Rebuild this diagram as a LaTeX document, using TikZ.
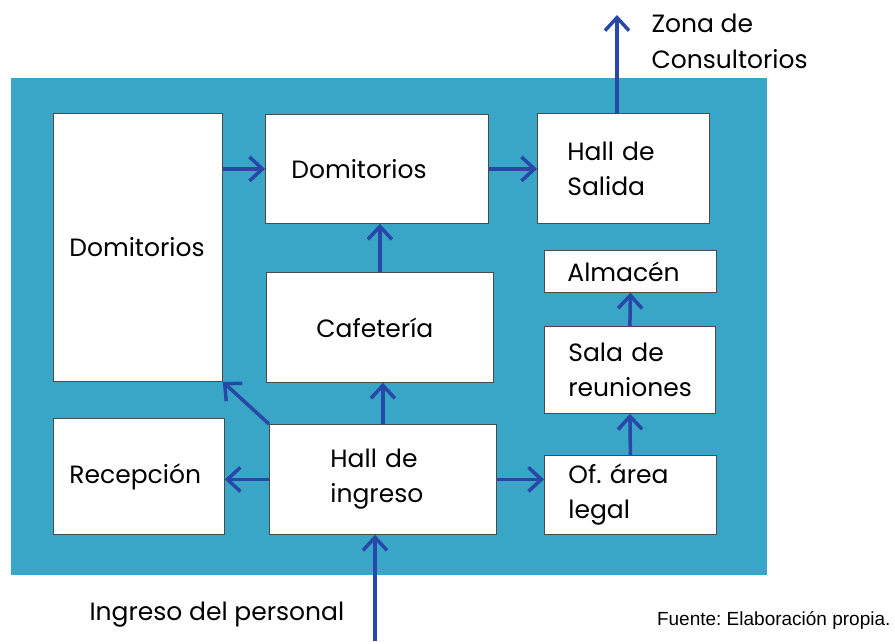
\documentclass[tikz,border=0pt]{standalone}
\usepackage{fontspec}
\setmainfont{Poppins}
\newfontfamily\notefont{Liberation Sans}
\usetikzlibrary{arrows.meta, positioning, calc}
\definecolor{poolblue}{HTML}{3AA6C7}
\definecolor{flowblue}{HTML}{2748A8}
\definecolor{edgegray}{HTML}{4A4A4A}
\frenchspacing

\begin{document}
\begin{tikzpicture}[
    x=1pt, y=-1pt,
    >={Straight Barb[length=13pt, width=24pt]},
    roombox/.style={draw=edgegray, line width=0.8pt, fill=white, anchor=north west, align=left, inner ysep=0pt, font=\fontsize{25}{35}\selectfont},
    tag/.style={align=left, font=\fontsize{25}{36}\selectfont},
    flow/.style={->, color=flowblue, line width=3.5pt},
  ]
  \useasboundingbox (0,0) rectangle (895,641);
  % planta
  \fill[poolblue] (11,78) rectangle (767,575);

  % ambientes
  \node[roombox, inner xsep=16pt, text width=137pt, minimum height=268pt] (domL) at (53,113) {Domitorios};
  \node[roombox, inner xsep=26pt, text width=171pt, minimum height=109pt] (domM) at (265,114) {Domitorios};
  \node[roombox, inner xsep=30pt, text width=112pt, minimum height=110pt] (salida) at (537,113) {Hall de\\Salida};
  \node[roombox, inner xsep=50pt, text width=127pt, minimum height=110pt] (cafe) at (266,272) {Cafetería};
  \node[roombox, inner xsep=23pt, text width=126pt, minimum height=42pt] (almacen) at (544,250) {Almacén};
  \node[roombox, inner xsep=24pt, text width=123pt, minimum height=87pt] (sala) at (544,326) {Sala de\\reuniones};
  \node[roombox, inner xsep=16pt, text width=139pt, minimum height=116pt] (recep) at (53,418) {Recepción};
  \node[roombox, inner xsep=61pt, text width=105pt, minimum height=110pt] (hallIn) at (269,424) {Hall de\\ingreso};
  \node[roombox, inner xsep=24pt, text width=124pt, minimum height=79pt] (legal) at (544,455) {Of. área\\legal};

  % accesos
  \coordinate (zona) at (617,15);
  \coordinate (ingreso) at (375,641);
  \node[tag, anchor=west] (zonatext) at (648,41) {Zona de\\Consultorios};
  \node[tag, anchor=west] (ingresotext) at (86,615) {Ingreso del personal};
  \node[anchor=east, font=\notefont\fontsize{19}{22}\selectfont] (fuente) at (894,620) {Fuente: Elaboración propia.};

  % circulaciones
  \draw[flow] (domL.east |- domM.west) -- (domM.west);
  \draw[flow] (domM.east) -- (domM.east -| salida.west);
  \draw[flow] (zona |- salida.north) -- (zona);
  \draw[flow] (cafe.north) -- (cafe.north |- domM.south);
  \draw[flow] (hallIn.north) -- (hallIn.north |- cafe.south);
  \draw[flow] (hallIn.north west) -- (domL.south east);
  \draw[flow] (hallIn.west) -- (hallIn.west -| recep.east);
  \draw[flow] (hallIn.east) -- (hallIn.east -| legal.west);
  \draw[flow] (legal.north) -- (sala.south);
  \draw[flow] (sala.north) -- (almacen.south);
  \draw[flow] (ingreso) -- (ingreso |- hallIn.south);
\end{tikzpicture}
\end{document}
